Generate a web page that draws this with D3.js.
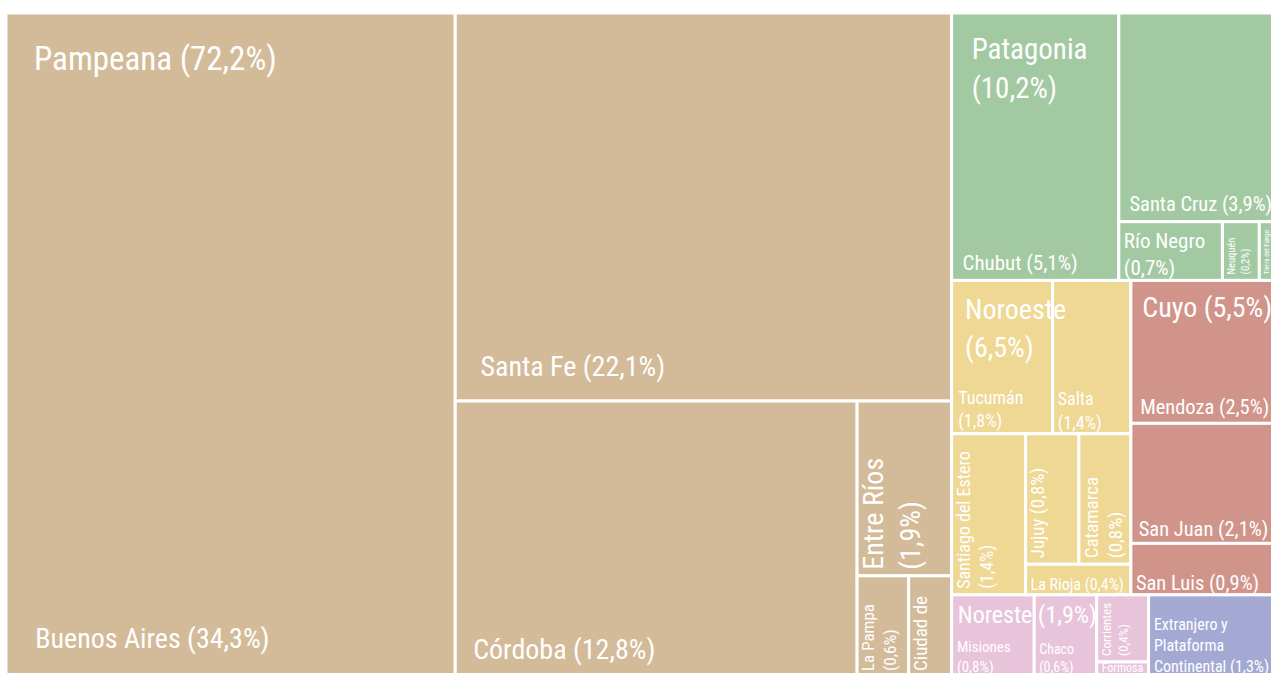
<!DOCTYPE html>
<html>
<head>
<meta charset="utf-8">
<script src="https://cdn.jsdelivr.net/npm/d3@7"></script>
<style>
  html, body { margin: 0; padding: 0; background: #fff; overflow: hidden; }
  svg { display: block; }
</style>
</head>
<body>
<div id="chart"></div>
<script>
// regions, in drawing order
const regions = ['Pampeana', 'Patagonia', 'Noroeste', 'Cuyo', 'Noreste', 'Extranjero y Plataforma Continental'];
const regionColors = ['#D3BB99', '#A3C9A2', '#EFD794', '#D1948A', '#E8C4DA', '#A4A9D4'];

// provinces (share of total, %)
const provinces = [
    'Buenos Aires', 'Santa Fe', 'Córdoba', 'Entre Ríos', 'La Pampa', 'Ciudad de Buenos Aires',
    'Chubut', 'Santa Cruz', 'Río Negro', 'Neuquén', 'Tierra del Fuego',
    'Tucumán', 'Salta', 'Santiago del Estero', 'Jujuy', 'Catamarca', 'La Rioja',
    'Mendoza', 'San Juan', 'San Luis',
    'Misiones', 'Chaco', 'Corrientes', 'Formosa',
    'Extranjero y Plataforma Continental'
];
const provinceRegion = [
    'Pampeana', 'Pampeana', 'Pampeana', 'Pampeana', 'Pampeana', 'Pampeana',
    'Patagonia', 'Patagonia', 'Patagonia', 'Patagonia', 'Patagonia',
    'Noroeste', 'Noroeste', 'Noroeste', 'Noroeste', 'Noroeste', 'Noroeste',
    'Cuyo', 'Cuyo', 'Cuyo',
    'Noreste', 'Noreste', 'Noreste', 'Noreste',
    'Extranjero y Plataforma Continental'
];
const shares = [
    34.3, 22.149, 12.751, 1.9, 0.6, 0.5,
    5.14, 3.94, 0.7, 0.249, 0.16,
    1.78, 1.38, 1.37, 0.8, 0.78, 0.37,
    2.5, 2.1, 0.9,
    0.78, 0.59, 0.4, 0.09,
    1.27
];

// number of cells in each successive strip of the tiling
const strips = {
    root: [1, 1, 2, 2],
    Pampeana: [1, 1, 1, 1, 2],
    Patagonia: [1, 1, 1, 2],
    Noroeste: [2, 1, 2, 1],
    Cuyo: [1, 1, 1],
    Noreste: [1, 1, 1, 1]
};

// label styles
const titleStyle = {
    Pampeana: { size: 33, wrap: false },
    Patagonia: { size: 29, wrap: true },
    Noroeste: { size: 28, wrap: true },
    Cuyo: { size: 28, wrap: false },
    Noreste: { size: 24, wrap: false }
};
const labelSize = {
    'Buenos Aires': 28, 'Santa Fe': 28, 'Córdoba': 28, 'Entre Ríos': 28, 'La Pampa': 17, 'Ciudad de Buenos Aires': 19,
    'Chubut': 21, 'Santa Cruz': 20.5, 'Río Negro': 21, 'Neuquén': 10.5, 'Tierra del Fuego': 7,
    'Tucumán': 18, 'Salta': 18, 'Santiago del Estero': 18, 'Jujuy': 19, 'Catamarca': 19, 'La Rioja': 16,
    'Mendoza': 20.5, 'San Juan': 20.5, 'San Luis': 20.5,
    'Misiones': 15, 'Chaco': 14, 'Corrientes': 13, 'Formosa': 12,
    'Extranjero y Plataforma Continental': 16
};
const verticalLabels = ['Entre Ríos', 'La Pampa', 'Ciudad de Buenos Aires', 'Neuquén', 'Tierra del Fuego',
    'Santiago del Estero', 'Jujuy', 'Catamarca', 'Corrientes'];

const width = 1271;
const height = 673;

const locale = d3.formatLocale({ decimal: ',', thousands: '.', grouping: [3], currency: ['$', ''] });
const pct = locale.format('.1f');

function hasFont(name) {
    const ctx = document.createElement('canvas').getContext('2d');
    const sample = 'Pampeana Córdoba (12,8%)';
    ctx.font = '40px monospace';
    const a = ctx.measureText(sample).width;
    ctx.font = `40px "${name}", monospace`;
    return ctx.measureText(sample).width !== a;
}
const condensed = hasFont('Roboto Condensed');
const family = condensed ? '"Roboto Condensed", Roboto, sans-serif' : 'Roboto, "Noto Sans", sans-serif';
const squeeze = condensed ? 1 : 0.88;
const weight = 400;

// tiling: fixed strips along the shorter side; the last strip puts its cells side by side
function stripTile(node, x0, y0, x1, y1) {
    const counts = strips[node.depth === 0 ? 'root' : node.data.name] || [node.children.length];
    let value = node.value;
    let i = 0;
    counts.forEach((n, s) => {
        const kids = node.children.slice(i, i + n);
        i += n;
        const row = { children: kids, value: d3.sum(kids, k => k.value) };
        const dx = x1 - x0, dy = y1 - y0;
        if (s === counts.length - 1) {
            d3.treemapDice(row, x0, y0, x1, y1);
        } else if (dx < dy) {
            const yy = y0 + dy * row.value / value;
            d3.treemapDice(row, x0, y0, x1, yy);
            y0 = yy;
        } else {
            const xx = x0 + dx * row.value / value;
            d3.treemapSlice(row, x0, y0, xx, y1);
            x0 = xx;
        }
        value -= row.value;
    });
}

const tree = {
    name: 'root',
    children: regions.map(r => ({
        name: r,
        children: provinces
            .map((p, i) => ({ name: p, value: shares[i], region: provinceRegion[i] }))
            .filter(p => p.region === r)
    }))
};

const root = d3.hierarchy(tree).sum(d => d.children ? 0 : d.value);
d3.treemap().tile(stripTile).size([1277, 664]).round(false)(root);

const color = d3.scaleOrdinal().domain(regions).range(regionColors);

const svg = d3.select('#chart')
    .append('svg')
    .attr('width', width)
    .attr('height', height);

const plot = svg.append('g').attr('transform', 'translate(6,13)');

const probe = svg.append('text')
    .attr('font-family', family)
    .attr('font-weight', weight)
    .style('visibility', 'hidden');

function textWidth(str, size) {
    probe.attr('font-size', size).text(str);
    return probe.node().getComputedTextLength() * squeeze;
}

function wrapWords(str, size, maxW) {
    const lines = [];
    let line = '';
    str.split(' ').forEach(word => {
        const test = line ? line + ' ' + word : word;
        if (!line || textWidth(test, size) <= maxW) {
            line = test;
        } else {
            lines.push(line);
            line = word;
        }
    });
    if (line) lines.push(line);
    return lines;
}

const leaves = root.leaves();

plot.selectAll('rect.cell')
    .data(leaves)
    .enter()
    .append('rect')
    .attr('class', 'cell')
    .attr('x', d => d.x0)
    .attr('y', d => d.y0)
    .attr('width', d => d.x1 - d.x0)
    .attr('height', d => d.y1 - d.y0)
    .attr('fill', d => color(d.parent.data.name))
    .attr('stroke', '#fff')
    .attr('stroke-width', 3);

// province labels, bottom-left of each cell
leaves.forEach(d => {
    const name = d.data.name;
    const size = labelSize[name];
    const vertical = verticalLabels.includes(name);
    const w = d.x1 - d.x0, h = d.y1 - d.y0;
    const pad = Math.max(5, Math.min(30, 0.065 * Math.min(w, h)));
    const bottom = vertical ? Math.max(6, pad) : pad;
    const along = vertical ? h : w;
    const across = vertical ? w : h;
    const lh = size * 1.3;
    let lines = wrapWords(`${name} (${pct(d.value)}%)`, size, along - (vertical ? bottom : pad) - 3);
    const fit = Math.max(1, Math.floor((across - pad - 0.72 * size) / lh) + 1);
    lines = lines.slice(0, fit);

    const transform = vertical
        ? `translate(${d.x0 + pad + 0.72 * size},${d.y1 - bottom}) rotate(-90) scale(${squeeze},1)`
        : `translate(${d.x0 + pad},${d.y1 - bottom}) scale(${squeeze},1)`;

    const text = plot.append('text')
        .attr('transform', transform)
        .attr('font-family', family)
        .attr('font-weight', weight)
        .attr('font-size', size)
        .attr('fill', '#fff');

    text.selectAll('tspan')
        .data(lines)
        .enter()
        .append('tspan')
        .attr('x', 0)
        .attr('y', (l, i) => vertical ? i * lh : -(lines.length - 1 - i) * lh)
        .text(l => l);
});

// region titles, top-left of each region
root.children.forEach(g => {
    const st = titleStyle[g.data.name];
    if (!st) return;
    const w = g.x1 - g.x0, h = g.y1 - g.y0;
    const tpad = Math.min(28, 0.075 * Math.min(w, h));
    const share = `(${pct(g.value)}%)`;
    const lines = st.wrap ? [g.data.name, share] : [`${g.data.name} ${share}`];

    const text = plot.append('text')
        .attr('transform', `translate(${g.x0 + tpad},${g.y0 + tpad + 5 + 0.72 * st.size}) scale(${squeeze},1)`)
        .attr('font-family', family)
        .attr('font-weight', weight)
        .attr('font-size', st.size)
        .attr('fill', '#fff');

    text.selectAll('tspan')
        .data(lines)
        .enter()
        .append('tspan')
        .attr('x', 0)
        .attr('y', (l, i) => i * st.size * 1.35)
        .text(l => l);
});

probe.remove();
</script>
</body>
</html>
